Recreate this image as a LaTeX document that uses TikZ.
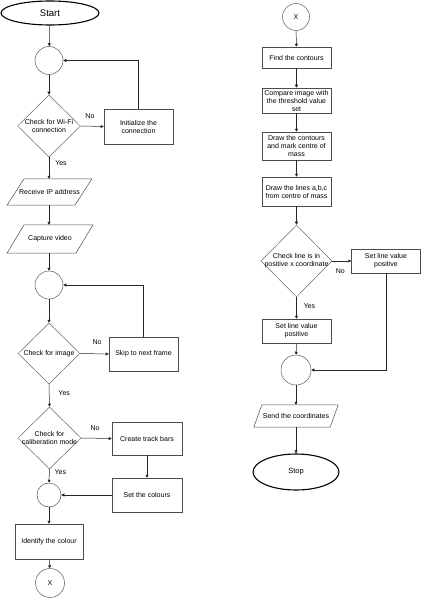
\documentclass[tikz,border=0pt]{standalone}
\usepackage{fontspec}
\setmainfont{Liberation Sans}
\usetikzlibrary{shapes.geometric,arrows.meta}

\begin{document}
\begin{tikzpicture}[x=1pt,y=-1pt,
    font=\fontsize{7}{8}\selectfont,
    line/.style={draw=black!85, line width=0.5pt, -{Triangle[length=3pt,width=3pt]}},
    term/.style={ellipse, draw, line width=1.1pt, inner sep=0pt},
    joint/.style={circle, draw=black!65, line width=0.5pt, inner sep=0pt},
    proc/.style={rectangle, draw=black!70, line width=0.5pt, align=center, inner sep=1pt},
    decide/.style={diamond, draw=black!60, line width=0.5pt, inner sep=0pt},
    io/.style={rectangle, inner sep=0pt, minimum width=67.5, minimum height=26},
    ioframe/.style={draw=black!70, line width=0.5pt, line join=miter},
    lbl/.style={inner sep=0pt}]
    \useasboundingbox (0,0) rectangle (421,599);

    %Left column
    \node[term, minimum width=98, minimum height=24, font=\fontsize{9.5}{11}\selectfont] (start) at (50,13) {Start};
    \node[joint, minimum size=28] (c1) at (49,60.5) {};
    \node[decide, minimum width=63, minimum height=62,
          label={[lbl, name=d1txt, align=center]center:Check for Wi-Fi\\connection}] (d1) at (49,126) {};
    \node[proc, minimum width=69, minimum height=35] (init) at (138.5,126.5) {Initialize the\\connection};
    \node[io] (ip) at (49.5,192) {Receive IP address};
    \node[io, minimum width=68.5, minimum height=28] (cap) at (50,239) {Capture video};
    \node[joint, minimum size=28] (c2) at (49,285) {};
    \node[decide, minimum width=62, minimum height=61,
          label={[lbl, name=d2txt]center:Check for image}] (d2) at (49,353.5) {};
    \node[proc, minimum width=69, minimum height=34] (skip) at (143.5,354) {Skip to next frame};
    \node[decide, minimum width=63, minimum height=62,
          label={[lbl, name=d3txt, align=center]center:Check for\\caliberation mode}] (d3) at (49.5,438) {};
    \node[proc, minimum width=70, minimum height=33] (track) at (147,438.5) {Create track bars};
    \node[proc, minimum width=70, minimum height=34] (colours) at (147,495) {Set the colours};
    \node[joint, minimum size=24] (c3) at (49,495) {};
    \node[proc, minimum width=68, minimum height=35] (ident) at (49,541.5) {Identify the colour};
    \node[joint, minimum size=29] (x1) at (50,583) {X};

    %Right column
    \node[joint, minimum size=27] (x2) at (296,17) {X};
    \node[proc, minimum width=69, minimum height=21] (find) at (296.5,57.5) {Find the contours};
    \node[proc, minimum width=69, minimum height=25] (cmp) at (296.5,100.5) {Compare image with\\the threshold value\\set};
    \node[proc, minimum width=69, minimum height=28] (drawc) at (296.5,146) {Draw the contours\\and mark centre of\\mass};
    \node[proc, minimum width=69, minimum height=29] (lines) at (296.5,191.5) {Draw the lines a,b,c\\from centre of mass};
    \node[decide, minimum width=71, minimum height=72,
          label={[lbl, name=d4txt, align=center]center:Check line is in\\positive x coordinate}] (d4) at (296.5,261) {};
    \node[proc, minimum width=69, minimum height=24] (posR) at (386,261) {Set line value\\positive};
    \node[proc, minimum width=69, minimum height=24] (posB) at (296.5,331) {Set line value\\positive};
    \node[joint, minimum size=30] (c4) at (296,370) {};
    \node[io, minimum width=76, minimum height=22] (send) at (296,416) {Send the coordinates};
    \node[term, minimum width=86, minimum height=36, font=\fontsize{7.5}{9}\selectfont] (stop) at (296,472) {Stop};

    %Parallelograms
    \foreach \n/\s in {ip/8.5, cap/8.5, send/4}
      \draw[ioframe] ([xshift=\s pt]\n.north west) -- ([xshift=\s pt]\n.north east)
        -- ([xshift=-\s pt]\n.south east) -- ([xshift=-\s pt]\n.south west) -- cycle;

    %Connectors left
    \draw[line] (start) -- (c1);
    \draw[line] (c1) -- (d1);
    \draw[line] (d1.east) -- node[lbl, pos=.4, yshift=10pt] (no1) {No} (init.west);
    \draw[line] (init.north) |- (c1.east);
    \draw[line] (d1.south) -- node[lbl, pos=.27, xshift=12pt] (yes1) {Yes} (d1.south |- ip.north);
    \draw[line] (d1.south |- ip.south) -- (d1.south |- cap.north);
    \draw[line] (d1.south |- cap.south) -- (c2);
    \draw[line] (c2) -- (d2);
    \draw[line] (d2.east) -- node[lbl, pos=.59, yshift=11.5pt] (no2) {No} (skip.west);
    \draw[line] (skip.north) |- (c2.east);
    \draw[line] (d2.south) -- node[lbl, pos=.39, xshift=15pt] (yes2) {Yes} (d3.north);
    \draw[line] (d3.east) -- node[lbl, pos=.45, yshift=10pt] (no3) {No} (track.west);
    \draw[line] (track) -- (colours);
    \draw[line] (colours.west) -- (c3.east);
    \draw[line] (d3.south) -- node[lbl, pos=.2, xshift=11pt] (yes3) {Yes} (c3.north);
    \draw[line] (c3) -- (ident);
    \draw[line] (ident) -- (x1);

    %Connectors right
    \draw[line] (x2) -- (find);
    \draw[line] (find) -- (cmp);
    \draw[line] (cmp) -- (drawc);
    \draw[line] (drawc) -- (lines);
    \draw[line] (lines) -- (d4);
    \draw[line] (d4.east) -- node[lbl, pos=.42, yshift=-10pt] (no4) {No} (posR.west);
    \draw[line] (d4.south) -- node[lbl, pos=.4, xshift=13pt] (yes4) {Yes} (posB.north);
    \draw[line] (posB) -- (c4);
    \draw[line] (posR.south) |- (c4.east);
    \draw[line] (c4) -- (send);
    \draw[line] (send) -- (stop);
\end{tikzpicture}
\end{document}
